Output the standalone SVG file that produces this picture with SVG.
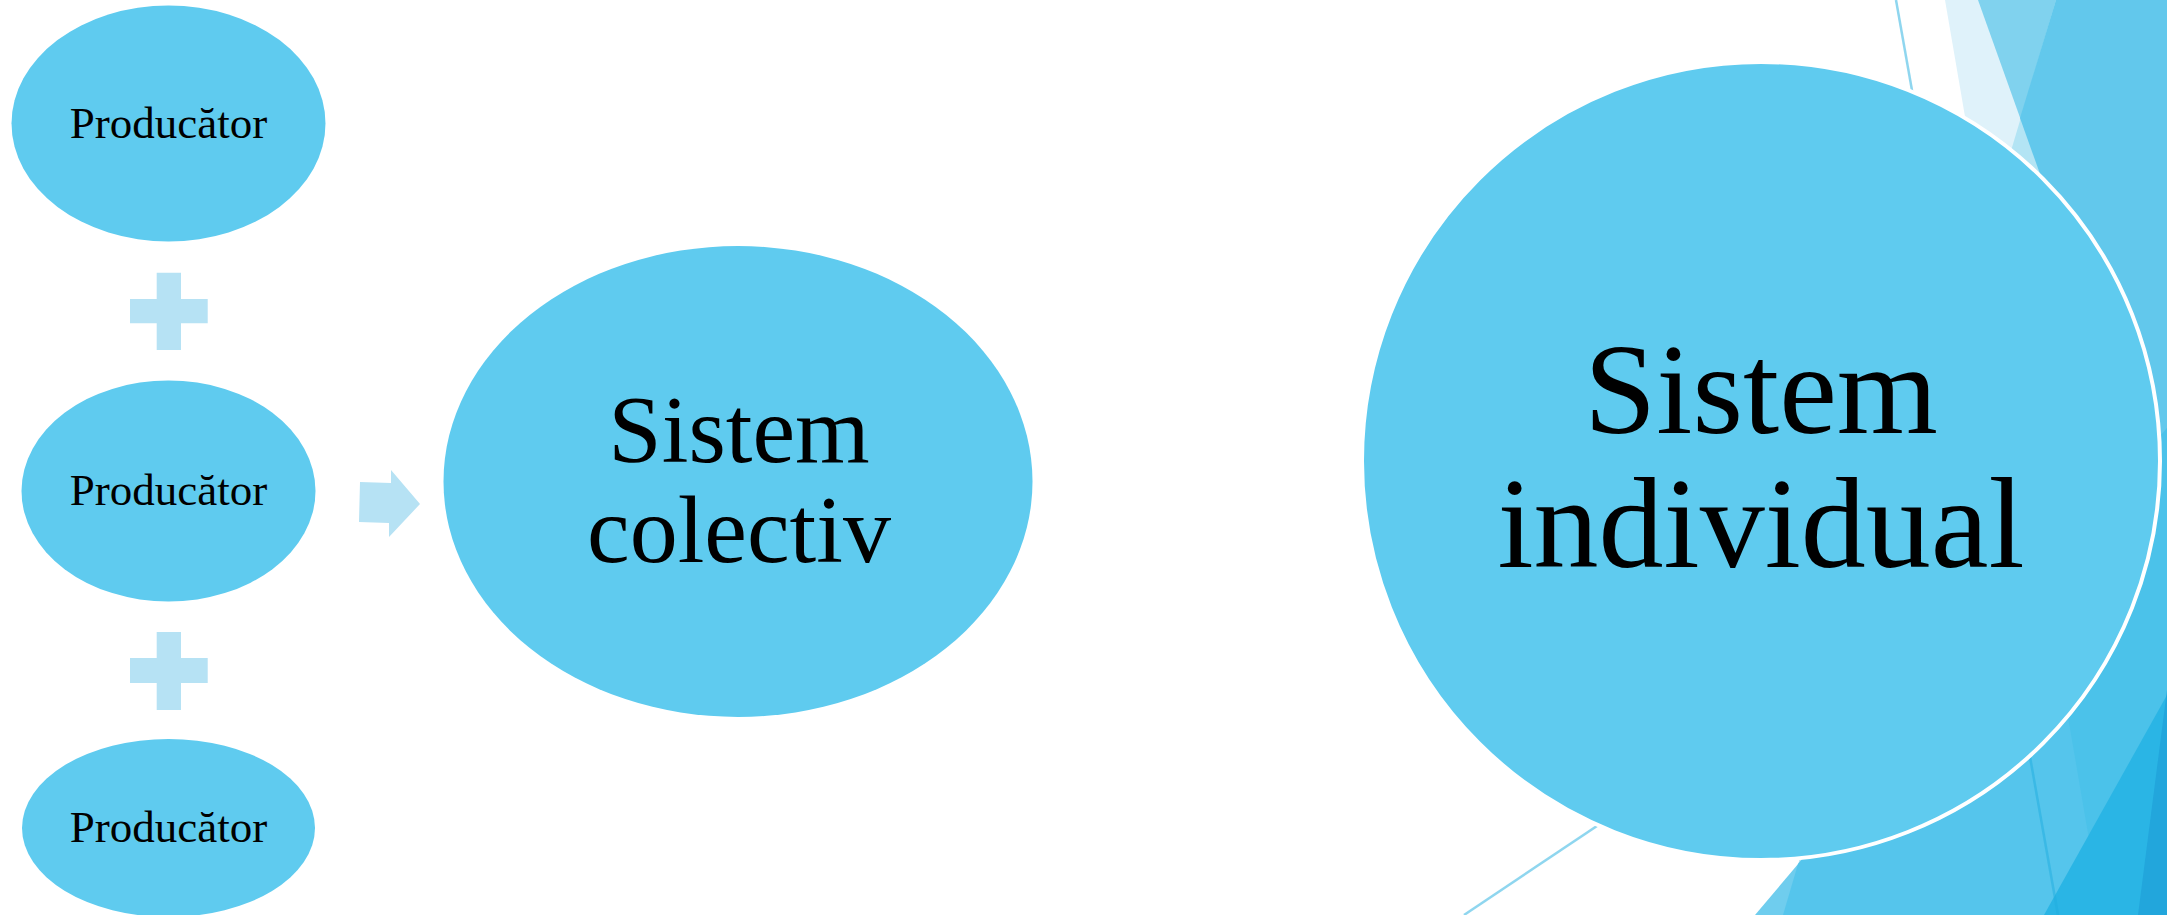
<svg xmlns="http://www.w3.org/2000/svg" width="2167" height="915" viewBox="0 0 2167 915">
<style>
.node{fill:#5FCBEF}
.lbl{font-family:"Liberation Serif","Times New Roman",serif;fill:#000;text-anchor:middle}
.sym{fill:#B6E2F4}
.thin{stroke:#1FAEE0;stroke-opacity:0.5;stroke-width:2.5;fill:none}
</style>
<rect width="2167" height="915" fill="#FFFFFF"/>
<g id="background">
<polygon points="1945,0 2167,0 2167,915 2102,915" fill="#DFF2FA"/>
<polygon points="1978,0 2167,0 2167,529" fill="#80D2EE"/>
<polygon points="2056,0 2167,0 2167,915 1783,915" fill="#B3E4F4"/>
<polygon points="2056,0 2167,0 2167,529 2020,118" fill="#62C8EC"/>
<polygon points="1755,915 2167,428 2167,915" fill="#6FCDEE"/>
<polygon points="1798,864 2167,428 2167,915 1783,915" fill="#55C5EC"/>
<polygon points="2043.5,574 2167,428 2167,915 2102,915" fill="#4BC2EA"/>
<polygon points="2044,915 2167,695 2167,915" fill="#2AB5E5"/>
<polygon points="2138,915 2167,690 2167,915" fill="#22A6DC"/>
<line class="thin" x1="1896" y1="0" x2="2058" y2="915"/>
<line class="thin" x1="1464" y1="915" x2="1760" y2="717"/>
</g>
<g id="connectors">
<path class="sym" d="M156.7,272.7H181V299H207.7V323.3H181V350H156.7V323.3H130V299H156.7Z"/>
<path class="sym" d="M156.7,632H181V658H207.7V683H181V710H156.7V683H130V658H156.7Z"/>
<polygon class="sym" points="360,482 391,483 391,470 420,504 389,537 389,523 359,522"/>
</g>
<g id="producator1">
<ellipse class="node" cx="168.5" cy="123.5" rx="157" ry="118"/>
<text class="lbl" x="168.5" y="138" font-size="45">Producător</text>
</g>
<g id="producator2">
<ellipse class="node" cx="168.5" cy="491" rx="147" ry="110.5"/>
<text class="lbl" x="168.5" y="505" font-size="45">Producător</text>
</g>
<g id="producator3">
<ellipse class="node" cx="168.5" cy="828" rx="146.5" ry="89"/>
<text class="lbl" x="168.5" y="842" font-size="45">Producător</text>
</g>
<g id="sistem-colectiv">
<ellipse class="node" cx="738" cy="481.5" rx="294.5" ry="235.5"/>
<text class="lbl" x="739" y="462" font-size="96">Sistem</text>
<text class="lbl" x="739" y="562" font-size="96">colectiv</text>
</g>
<g id="sistem-individual">
<circle class="node" cx="1761" cy="461" r="399" stroke="#FFFFFF" stroke-width="4"/>
<text class="lbl" x="1761" y="433" font-size="130">Sistem</text>
<text class="lbl" x="1761" y="567" font-size="130">individual</text>
</g>
</svg>
